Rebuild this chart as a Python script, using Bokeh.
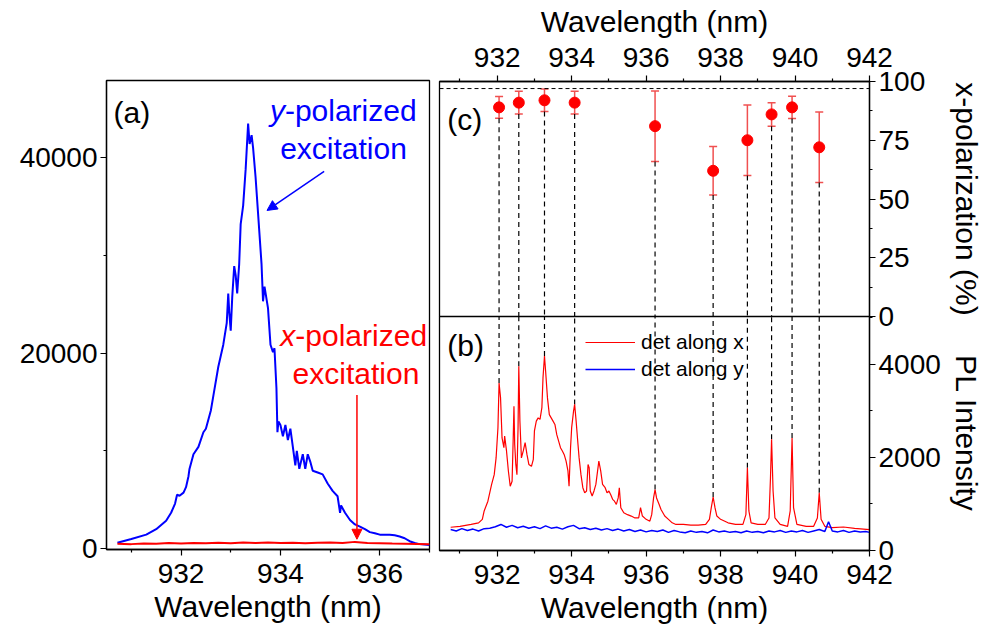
from bokeh.plotting import figure
from bokeh.layouts import row, column
from bokeh.models import (Range1d, FixedTicker, BasicTickFormatter, Label, Arrow, NormalHead,
                          Legend, LegendItem, Whisker, TeeHead, ColumnDataSource, Span)
from bokeh.embed import file_html
from bokeh.resources import INLINE

FONT = "Liberation Sans"

# ---------------- panel (a): PL spectra, y- and x-polarized excitation ----------------
wl_a_y = [930.72, 931.0, 931.3, 931.5, 931.7, 931.8, 931.88, 931.92, 931.97, 932.05,
          932.1, 932.15, 932.17, 932.25, 932.35, 932.45, 932.5, 932.6, 932.65, 932.75,
          932.85, 932.92, 932.95, 932.97, 933.0, 933.03, 933.07, 933.1, 933.13, 933.17,
          933.2, 933.25, 933.3, 933.35, 933.38, 933.42, 933.45, 933.5, 933.55, 933.62,
          933.65, 933.68, 933.75, 933.8, 933.85, 933.88, 933.92, 933.94, 933.96, 934.0,
          934.05, 934.1, 934.15, 934.2, 934.25, 934.3, 934.33, 934.38, 934.45, 934.5,
          934.55, 934.6, 934.65, 934.75, 934.85, 934.95, 935.05, 935.15, 935.2, 935.22,
          935.3, 935.4, 935.5, 935.6, 935.7, 935.8, 935.9, 936.0, 936.2, 936.3,
          936.4, 936.5, 936.6, 936.7, 936.8, 937.0]
int_a_y = [600, 970, 1420, 1980, 2840, 3660, 4600, 5500, 5400, 5720,
           6280, 7400, 8150, 9650, 10400, 11900, 12260, 14130, 15630, 18600,
           20860, 23100, 26100, 24200, 22300, 25700, 28900, 27960, 26100, 29100,
           33200, 35100, 38800, 43500, 41400, 42300, 41000, 38000, 34300, 29100,
           25300, 26800, 24600, 20860, 20100, 20500, 16400, 11900, 13000, 12640,
           11500, 12640, 11100, 12260, 10400, 8520, 10000, 8150, 9650, 8150,
           9650, 8900, 7960, 7780, 7590, 6650, 5900, 5350, 3660, 4410,
           3660, 2920, 2470, 2240, 1980, 1680, 1570, 1420, 1420, 1350,
           1230, 1050, 750, 560, 450, 370]

wl_a_x = [930.72, 931.0, 931.25, 931.5, 931.75, 932.0, 932.25, 932.5, 932.75, 933.0,
          933.25, 933.5, 933.75, 934.0, 934.25, 934.5, 934.75, 935.0, 935.25, 935.5,
          935.75, 936.0, 936.25, 936.5, 936.75, 937.0]
int_a_x = [480, 450, 520, 490, 560, 510, 570, 530, 600, 550,
           620, 570, 610, 560, 600, 540, 580, 620, 560, 680,
           570, 540, 510, 490, 470, 450]

xa_ticks = [932, 934, 936]
xa_minor = [931, 933, 935, 937]
ya_ticks = [0, 20000, 40000]
ya_minor = [10000, 30000]

# ---------------- panel (b): PL with detection along x / y ----------------
wl_b_x = [930.75, 931.0, 931.3, 931.5, 931.6, 931.65, 931.75, 931.85, 931.92, 931.97,
          932.02, 932.05, 932.09, 932.13, 932.18, 932.2, 932.25, 932.3, 932.35, 932.4,
          932.43, 932.45, 932.47, 932.5, 932.53, 932.56, 932.58, 932.61, 932.65, 932.7,
          932.75, 932.8, 932.85, 932.92, 932.97, 933.0, 933.05, 933.1, 933.15, 933.2,
          933.23, 933.27, 933.3, 933.35, 933.4, 933.45, 933.5, 933.55, 933.6, 933.65,
          933.7, 933.75, 933.8, 933.85, 933.9, 933.93, 933.97, 934.0, 934.05, 934.08,
          934.12, 934.17, 934.2, 934.25, 934.3, 934.35, 934.4, 934.44, 934.47, 934.5,
          934.55, 934.6, 934.65, 934.73, 934.78, 934.83, 934.9, 934.95, 935.0, 935.05,
          935.1, 935.15, 935.2, 935.25, 935.28, 935.32, 935.4, 935.5, 935.6, 935.7,
          935.8, 935.85, 935.9, 936.0, 936.1, 936.15, 936.2, 936.24, 936.28, 936.35,
          936.4, 936.5, 936.6, 936.7, 936.8, 937.0, 937.2, 937.4, 937.6, 937.7,
          937.75, 937.8, 937.85, 937.9, 938.0, 938.2, 938.4, 938.6, 938.68, 938.72,
          938.76, 938.82, 939.0, 939.2, 939.3, 939.34, 939.37, 939.41, 939.46, 939.6,
          939.8, 939.87, 939.92, 939.96, 940.05, 940.3, 940.5, 940.6, 940.65, 940.7,
          940.8, 941.0, 941.3, 941.6, 942.0]
int_b_x = [500, 520, 560, 595, 670, 850, 1060, 1420, 1630, 1990,
           2640, 3600, 3280, 2420, 2210, 2460, 2140, 1710, 1380, 1490,
           2420, 3100, 2280, 1850, 1630, 2640, 3960, 2780, 1990, 2140,
           2320, 2060, 1850, 1810, 1960, 2570, 2780, 2850, 2820, 3070,
           3710, 4180, 3860, 3280, 2920, 2850, 2780, 2710, 2490, 2350,
           2210, 2140, 2060, 1920, 1710, 1380, 2210, 2640, 2990, 3140,
           2780, 2280, 1990, 1630, 1350, 1240, 1280, 1850, 1780, 1280,
           1170, 1280, 1420, 1920, 1710, 1420, 1350, 1240, 1280, 1200,
           1100, 1060, 990, 1130, 1350, 920, 810, 770, 740, 700,
           700, 920, 740, 670, 630, 770, 1130, 1310, 1130, 990,
           880, 740, 670, 595, 560, 560, 545, 545, 560, 670,
           920, 1150, 920, 740, 670, 595, 560, 560, 770, 1780,
           850, 595, 560, 560, 700, 1560, 2390, 1280, 700, 560,
           520, 850, 2420, 920, 560, 520, 520, 700, 1240, 670,
           520, 490, 505, 475, 450]

wl_b_y = [930.75, 930.9, 931.05, 931.2, 931.35, 931.5, 931.65, 931.8, 931.95, 932.1,
          932.25, 932.4, 932.55, 932.7, 932.85, 933.0, 933.15, 933.3, 933.45, 933.6,
          933.75, 933.9, 934.05, 934.2, 934.35, 934.5, 934.65, 934.8, 934.95, 935.1,
          935.25, 935.4, 935.55, 935.7, 935.85, 936.0, 936.15, 936.3, 936.45, 936.6,
          936.75, 936.9, 937.05, 937.2, 937.35, 937.5, 937.65, 937.8, 937.95, 938.1,
          938.25, 938.4, 938.55, 938.7, 938.85, 939.0, 939.15, 939.3, 939.45, 939.6,
          939.75, 939.9, 940.05, 940.2, 940.35, 940.5, 940.65, 940.8, 940.9, 941.0,
          941.15, 941.3, 941.45, 941.6, 941.75, 941.9, 942.0]
int_b_y = [450, 420, 470, 430, 460, 420, 470, 480, 510, 560,
           500, 540, 490, 520, 480, 510, 470, 530, 480, 500,
           460, 510, 540, 470, 490, 450, 480, 440, 470, 430,
           460, 420, 450, 410, 440, 400, 430, 410, 440, 390,
           430, 400, 380, 420, 390, 410, 380, 440, 400, 420,
           390, 410, 380, 420, 390, 410, 380, 420, 400, 430,
           390, 420, 400, 430, 390, 420, 450, 410, 620, 420,
           400, 430, 390, 420, 400, 410, 390]

# ---------------- panel (c): x-polarization degree of the lines ----------------
line_wl = [932.05, 932.58, 933.27, 934.08, 936.24, 937.80, 938.72, 939.37, 939.92, 940.65]
pol_val = [89, 91, 92, 91, 81, 62, 75, 86, 89, 72]
pol_err = [4.6, 4.8, 4.8, 4.8, 15, 10.3, 15, 5, 4.7, 15]
peak_int = [3600, 3960, 4180, 3140, 1310, 1150, 1780, 2390, 2420, 1240]
pol_ref = 97

xb_ticks = [932, 934, 936, 938, 940, 942]
xb_minor = [931, 933, 935, 937, 939, 941]
yc_ticks = [0, 25, 50, 75, 100]
yc_minor = [12.5, 37.5, 62.5, 87.5]
yb_ticks = [0, 2000, 4000]
yb_minor = [1000, 3000, 5000]

xa_lo, xa_hi = 930.5, 937.0
ya_lo, ya_hi = -100, 47900
xb_lo, xb_hi = 930.45, 942.0
yc_lo, yc_hi = 0, 100
yb_lo, yb_hi = 0, 5030


def style(p):
    p.xgrid.visible = False
    p.ygrid.visible = False
    p.outline_line_color = "black"
    p.outline_line_width = 1.3
    p.outline_line_alpha = 1
    p.background_fill_color = "white"
    p.border_fill_color = "white"
    for ax in p.axis:
        ax.major_label_text_font = FONT
        ax.major_label_text_font_size = "28px"
        ax.major_label_text_color = "black"
        ax.axis_label_text_font = FONT
        ax.axis_label_text_font_size = "30px"
        ax.axis_label_text_font_style = "normal"
        ax.axis_label_text_color = "black"
        ax.axis_line_color = "black"
        ax.axis_line_width = 1.3
        ax.major_tick_line_color = "black"
        ax.minor_tick_line_color = "black"
        ax.major_tick_line_width = 1.2
        ax.minor_tick_line_width = 1.2
        ax.major_tick_in = 0
        ax.major_tick_out = 6
        ax.minor_tick_in = 0
        ax.minor_tick_out = 3
        ax.major_label_standoff = 3
        ax.axis_label_standoff = 3
        ax.formatter = BasicTickFormatter(use_scientific=False)


def lab(p, x, y, text, color="black", align="left", style_="normal", size="30px"):
    p.add_layout(Label(x=x, y=y, text=text, text_font=FONT, text_font_size=size,
                       text_color=color, text_align=align, text_baseline="middle",
                       text_font_style=style_))


# ---- (a)
pa = figure(frame_width=323, frame_height=469,
            x_range=Range1d(xa_lo, xa_hi), y_range=Range1d(ya_lo, ya_hi),
            min_border_left=106, min_border_right=4, min_border_top=80, min_border_bottom=74,
            output_backend="svg", toolbar_location=None)
style(pa)
pa.line(wl_a_y, int_a_y, color="blue", line_width=2)
pa.line(wl_a_x, int_a_x, color="red", line_width=2)
pa.xaxis.ticker = FixedTicker(ticks=xa_ticks, minor_ticks=xa_minor)
pa.yaxis.ticker = FixedTicker(ticks=ya_ticks, minor_ticks=ya_minor)
pa.xaxis.axis_label = "Wavelength (nm)"
pa.xaxis.major_label_standoff = 8
pa.xaxis.axis_label_standoff = 4

lab(pa, 930.64, 44600, "(a)")
lab(pa, 934.09, 44800, "y", "blue", "right", "italic")
lab(pa, 934.09, 44800, "-polarized", "blue", "left")
lab(pa, 935.27, 40900, "excitation", "blue", "center")
lab(pa, 934.30, 21800, "x", "red", "right", "italic")
lab(pa, 934.30, 21800, "-polarized", "red", "left")
lab(pa, 935.52, 17900, "excitation", "red", "center")
pa.add_layout(Arrow(end=NormalHead(size=10, fill_color="blue", line_color="blue"),
                    x_start=934.88, y_start=38600, x_end=933.73, y_end=34600,
                    line_color="blue", line_width=1.5))
pa.add_layout(Arrow(end=NormalHead(size=10, fill_color="red", line_color="red"),
                    x_start=935.54, y_start=15700, x_end=935.54, y_end=950,
                    line_color="red", line_width=1.5))

# ---- (c)
xr = Range1d(xb_lo, xb_hi)
pc = figure(frame_width=430, frame_height=235, x_range=xr, y_range=Range1d(yc_lo, yc_hi),
            x_axis_location="above", y_axis_location="right",
            min_border_left=6, min_border_right=112, min_border_top=81, min_border_bottom=20,
            output_backend="svg", toolbar_location=None)
style(pc)
pc.xaxis.ticker = FixedTicker(ticks=xb_ticks, minor_ticks=xb_minor)
pc.yaxis.ticker = FixedTicker(ticks=yc_ticks, minor_ticks=yc_minor)
pc.xaxis.axis_label = "Wavelength (nm)"
pc.xaxis.major_label_standoff = 9
pc.xaxis.axis_label_standoff = 7
pc.yaxis.axis_label = "x-polarization (%)"
pc.yaxis.axis_label_standoff = 22

lower = [v - e for v, e in zip(pol_val, pol_err)]
upper = [v + e for v, e in zip(pol_val, pol_err)]
src = ColumnDataSource(dict(x=line_wl, y=pol_val, lo=lower, up=upper,
                            bottom=[yc_lo] * len(line_wl)))
pc.segment(x0="x", y0="lo", x1="x", y1="bottom", source=src, line_color="black",
           line_dash="5 4", line_width=1.2)
pc.add_layout(Span(location=pol_ref, dimension="width", line_color="black",
                   line_dash="4 3", line_width=1))
pc.add_layout(Whisker(source=src, base="x", lower="lo", upper="up", line_color="#f05050",
                      line_width=1.5,
                      upper_head=TeeHead(size=8, line_color="#f05050", line_width=1.5),
                      lower_head=TeeHead(size=8, line_color="#f05050", line_width=1.5)))
pc.scatter("x", "y", source=src, size=11, color="red")
lab(pc, 930.66, 83.8, "(c)")

# ---- (b)
pb = figure(frame_width=430, frame_height=234, x_range=xr, y_range=Range1d(yb_lo, yb_hi),
            x_axis_location="below", y_axis_location="right",
            min_border_left=6, min_border_right=112, min_border_top=0, min_border_bottom=74,
            output_backend="svg", toolbar_location=None)
style(pb)
pb.border_fill_alpha = 0
pb.margin = (-20, 0, 0, 0)
pb.xaxis.ticker = FixedTicker(ticks=xb_ticks, minor_ticks=xb_minor)
pb.yaxis.ticker = FixedTicker(ticks=yb_ticks, minor_ticks=yb_minor)
pb.xaxis.axis_label = "Wavelength (nm)"
pb.xaxis.major_label_standoff = 8
pb.xaxis.axis_label_standoff = 4
pb.yaxis.axis_label = "PL Intensity"
pb.yaxis.axis_label_standoff = 6

srcb = ColumnDataSource(dict(x=line_wl, pk=peak_int, top=[yb_hi * 1.05] * len(line_wl)))
pb.segment(x0="x", y0="pk", x1="x", y1="top", source=srcb, line_color="black",
           line_dash="5 4", line_width=1.2)
r1 = pb.line(wl_b_x, int_b_x, color="red", line_width=1.2)
r2 = pb.line(wl_b_y, int_b_y, color="blue", line_width=1.5)
leg = Legend(items=[LegendItem(label="det along x", renderers=[r1]),
                    LegendItem(label="det along y", renderers=[r2])],
             location=(146, 169), label_text_font=FONT, label_text_font_size="21px",
             label_text_color="black", glyph_width=50, glyph_height=24, label_height=24,
             spacing=3, padding=0, margin=0, border_line_alpha=0,
             background_fill_alpha=0, label_standoff=6)
pb.add_layout(leg)
lab(pb, 930.66, 4400, "(b)")

layout = row(pa, column(pc, pb))
open("out.html", "w").write(file_html(layout, INLINE))
